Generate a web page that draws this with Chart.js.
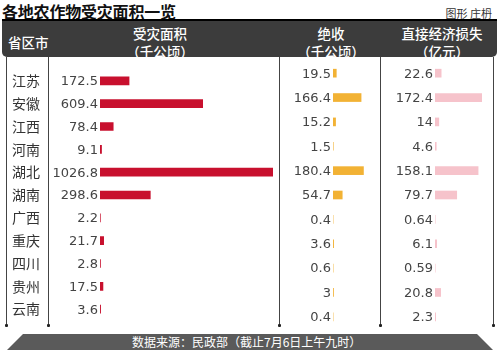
<!DOCTYPE html>
<html>
<head>
<meta charset="utf-8">
<script src="https://cdn.jsdelivr.net/npm/chart.js@4"></script>
<style>
  body { margin: 0; background: #fff; }
  #wrap { position: relative; width: 500px; height: 359px; overflow: hidden; font-family: "Noto Sans CJK SC", sans-serif; }
  .abs { position: absolute; }
  #title { left: 2px; top: 0px; font-size: 16px; font-weight: bold; color: #111; line-height: 22px; letter-spacing: -0.2px; }
  #credit { right: 8px; top: 4px; font-size: 11px; color: #333; line-height: 18px; }
  #head { left: 2px; top: 19px; width: 495px; height: 36px; background: #3c3c3c; border-top: 2px solid #000; border-radius: 0 0 5px 5px; color: #fff; font-size: 13.5px; font-weight: 500; }
  #head div { position: absolute; text-align: center; line-height: 18px; white-space: nowrap; }
  .vline { width: 1px; background: #444; top: 57px; height: 268px; }
  .dot { width: 3px; height: 3px; background: #222; top: 324px; border-radius: 1px; }
  #foot { left: 7px; top: 334px; width: 486px; height: 16px; background: #5a5a5a;
          clip-path: polygon(16px 0, 470px 0, 486px 100%, 0 100%); color: #fff; font-size: 12px; line-height: 16px; }
  canvas { position: absolute; }
</style>
</head>
<body>
<div id="wrap">
  <div id="title" class="abs">各地农作物受灾面积一览</div>
  <div id="credit" class="abs">图形 庄枬</div>
  <div id="head" class="abs">
    <div style="left:6px; top:12px;">省区市</div>
    <div style="left:118px; width:80px; top:3px;">受灾面积<br>（千公顷）</div>
    <div style="left:289px; width:80px; top:3px;">绝收<br>（千公顷）</div>
    <div style="left:390px; width:100px; top:3px;">直接经济损失<br>（亿元）</div>
  </div>
  <div class="abs vline" style="left:6px"></div>
  <div class="abs vline" style="left:48px"></div>
  <div class="abs vline" style="left:279px"></div>
  <div class="abs vline" style="left:380px"></div>
  <div class="abs vline" style="left:493px"></div>
  <div class="abs dot" style="left:5px"></div>
  <div class="abs dot" style="left:47px"></div>
  <div class="abs dot" style="left:278px"></div>
  <div class="abs dot" style="left:379px"></div>
  <div class="abs dot" style="left:492px"></div>
  <canvas id="c1" style="left:0px; top:61px;" width="280" height="268"></canvas>
  <canvas id="c2" style="left:280px; top:61px;" width="100" height="268"></canvas>
  <canvas id="c3" style="left:380px; top:61px;" width="113" height="268"></canvas>
  <div id="foot" class="abs"><span style="position:absolute; left:125px;">数据来源：民政部（截止7月6日上午九时）</span></div>
</div>
<script>
const provinces = ['江苏', '安徽', '江西', '河南', '湖北', '湖南', '广西', '重庆', '四川', '贵州', '云南'];
const affectedArea = [172.5, 609.4, 78.4, 9.1, 1026.8, 298.6, 2.2, 21.7, 2.8, 17.5, 3.6];
const totalLoss = [19.5, 166.4, 15.2, 1.5, 180.4, 54.7, 0.4, 3.6, 0.6, 3, 0.4];
const economicLoss = [22.6, 172.4, 14, 4.6, 158.1, 79.7, 0.64, 6.1, 0.59, 20.8, 2.3];

Chart.defaults.animation = false;

// draws the number just left of where each bar starts
const valueLabels = {
  id: 'valueLabels',
  afterDatasetsDraw(chart) {
    const ctx = chart.ctx;
    const meta = chart.getDatasetMeta(0);
    const data = chart.data.datasets[0].data;
    ctx.save();
    ctx.font = '13px "DejaVu Sans", sans-serif';
    ctx.fillStyle = '#444';
    ctx.textAlign = 'right';
    ctx.textBaseline = 'middle';
    meta.data.forEach((bar, i) => {
      ctx.fillText(String(data[i]), bar.base - 2, bar.y + 1);
    });
    ctx.restore();
  }
};

function makeChart(id, values, color, max, padding, showNames) {
  return new Chart(document.getElementById(id), {
    type: 'bar',
    data: {
      labels: provinces,
      datasets: [{ data: values, backgroundColor: color, barThickness: 8 }]
    },
    options: {
      indexAxis: 'y',
      responsive: false,
      layout: { padding: padding },
      scales: {
        x: { display: false, min: 0, max: max },
        y: {
          display: showNames,
          grid: { display: false },
          border: { display: false },
          ticks: {
            color: '#333',
            font: { size: 14, family: '"Noto Sans CJK SC"' },
            crossAlign: 'far',
            padding: 0
          },
          afterFit: s => { if (showNames) s.width = 88; }
        }
      },
      plugins: { legend: { display: false }, tooltip: { enabled: false } }
    },
    plugins: [valueLabels]
  });
}

makeChart('c1', affectedArea, '#c8102e', 1026.8, { left: 12, right: 7, top: 0, bottom: 0 }, true);
makeChart('c2', totalLoss, '#f2b234', 237, { left: 53, right: 7, top: 0, bottom: 0 }, false);
makeChart('c3', economicLoss, '#f6c3cb', 172.4, { left: 55, right: 11, top: 0, bottom: 0 }, false);
</script>
</body>
</html>
